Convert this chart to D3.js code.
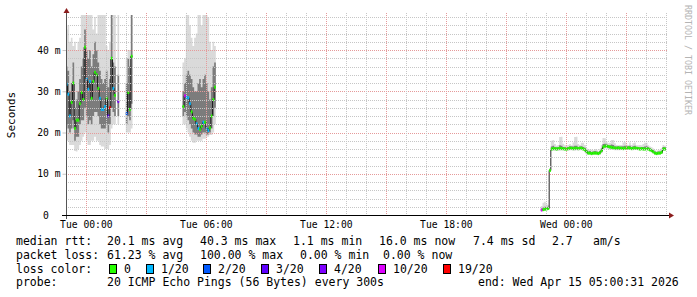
<!DOCTYPE html>
<html>
<head>
<meta charset="utf-8">
<script src="https://cdn.jsdelivr.net/npm/d3@7"></script>
<style>
  body { margin: 0; background: #fff; }
  svg { display: block; }
  text { font-family: "DejaVu Sans Mono", monospace; fill: #000; white-space: pre; }
</style>
</head>
<body>
<div class="svg-container"></div>
<script>
// time window of the graph (30 hours, 300s steps)
const graphStart = "2026-04-13T23:00:31";
const graphEnd = "2026-04-15T05:00:31";
const stepMs = 300000;

// segment A: Mon 23:00 .. Tue 02:20 (values in ms, loss in pings of 20)
const segAStart = "2026-04-13T23:00:00";
const medA  = [31.7,29.3,24,27.3,32,21,23,23,27,29.7, 28,40.7,33,30.5,32.4,28.3,32.4,34.6,34,30.7, 28.3,25.6,25.6,26.3,28.3,24,26,38,30.7,29, null,27.5,null,null,null,null,24.6,29.7,25.6,38.5];
const lossA = [1,1,1,0,0,0,0,0,0,0, 0,0,1,1,1,0,0,0,0,0, 1,1,1,1,0,3,19,0,1,0, null,4,null,null,null,null,2,0,0,0];
const minA  = [18,18,17,17,17,15.5,15.4,16,17,18, 19,20,18,17,17,18,18,19,18,18, 17,16.6,16.6,16,16,16,17,21,22,22, null,22,null,null,null,null,20,20,20,21];
const loA   = [22,21,20,21,23,18,19,19,22,23, 23,26,24,22,23,22,24,25,25,24, 22,21,21,21,22,20,22,26,25,24, null,24,null,null,null,null,22,24,23,27];
const hiA   = [36,35,30,32,37,26,28,30,33,36, 38,45,40,38,40,36,39,42,40,37, 35,33,32,33,35,31,33,49,37,36, null,34,null,null,null,null,32,38,36,49];
const maxA  = [45,46,42,43,41,42,40,42,43,49, 49,49,49,49,49,49,45,48,44,49, 49,49,49,49,41,40,42,49,49,49, null,49,null,null,null,null,38,40,40,49];

// segment B: Tue 04:50 .. Tue 06:30
const segBStart = "2026-04-14T04:50:00";
const medB  = [26.3,28.9,28.5,28.4,27,25,23.5,23.2,22.1,21, 20.7,21.5,22.5,22.5,21,20.5,21.1,24,28,31];
const lossB = [0,10,1,1,1,0,0,0,1,1, 0,0,1,0,1,1,0,0,0,0];
const minB  = [22,22,21,20,19,18,17.5,17.5,18,18, 18,18,18.5,18.5,19,19,19.4,19.4,20,22];
const loB   = [24,25,24,23,22,21,20,19.5,19.5,19, 19,19.5,20,20,19.5,19.5,20,21,24,26];
const hiB   = [30,32,34,35,34,33,31,30,30,32, 33,31,33,34,32,30,28,31,36,37];
const maxB  = [37,38,49,49,46,43,41,43,44,49, 49,46,49,49,49,48,42,40,42,41];

// segment C: Tue 22:45 .. Wed 05:00
const segCStart = "2026-04-14T22:45:00";
const medC  = [1.2,1.3,1.4,1.5,1.6, 10.8,
  16.0,16.1,16.1,16.0,16.1,16.2,16.1,16.1,16.0,16.0,16.1,16.2,16.2,16.1,16.2,16.2,16.1,16.2,16.2,16.0,
  15.8,15.3,15.0,15.0,14.9,15.0,15.0,15.0,14.9,15.1,15.6,
  16.5,16.7,16.7,16.6,16.5,16.4,16.3,16.2,16.2,
  16.3,16.2,16.2,16.1,16.2,16.2,16.3,16.2,16.1,16.2,16.2,16.2,16.1,16.0,16.1,16.0,16.0,16.1,16.0,
  15.8,15.6,15.3,15.0,14.9,15.0,15.0,15.2,16.0,16.0];
const lossC = [10,0,0,0,0, 0,
  0,0,0,0,0,0,0,0,0,0,0,0,0,0,0,0,0,0,0,0,
  0,0,0,0,0,0,0,0,0,0,0,
  0,0,0,0,0,0,0,0,0,
  0,0,0,0,0,0,0,0,0,0,0,0,0,0,0,0,0,0,0,
  0,0,0,0,0,0,0,0,0,0];
const minC  = [1.0,1.0,1.0,1.1,1.2, 10.5,
  15.5,15.6,15.6,15.5,15.6,15.6,15.7,15.6,15.5,15.5,15.6,15.7,15.7,15.6,15.6,15.7,15.6,15.7,15.7,15.5,
  15.2,14.7,14.6,14.6,14.5,14.6,14.6,14.6,14.5,14.6,15.0,
  15.9,16.1,16.1,16.0,15.9,15.8,15.8,15.7,15.7,
  15.7,15.7,15.8,15.7,15.8,15.8,15.8,15.8,15.7,15.7,15.8,15.8,15.7,15.6,15.7,15.6,15.6,15.7,15.6,
  15.4,15.2,14.9,14.6,14.5,14.6,14.6,14.8,15.5,15.6];
const loC   = [1.1,1.1,1.2,1.3,1.4, 10.6,
  15.8,15.9,15.9,15.8,15.9,15.9,15.9,15.9,15.8,15.8,15.9,15.9,16.0,15.9,15.9,16.0,15.9,16.0,16.0,15.8,
  15.5,15.0,14.8,14.8,14.7,14.8,14.8,14.8,14.7,14.9,15.3,
  16.2,16.4,16.4,16.3,16.2,16.1,16.0,16.0,15.9,
  16.0,15.9,16.0,15.9,16.0,16.0,16.1,16.0,15.9,16.0,16.0,16.0,15.9,15.8,15.9,15.8,15.8,15.9,15.8,
  15.6,15.4,15.1,14.8,14.7,14.8,14.8,15.0,15.8,15.8];
const hiC   = [1.6,1.8,2.0,1.9,2.0, 11.0,
  16.6,16.8,16.5,16.4,16.5,16.9,16.8,16.5,16.4,16.4,16.5,16.7,16.6,16.6,16.8,16.8,16.5,16.6,16.7,16.5,
  16.3,15.8,15.4,15.5,15.3,15.4,15.5,15.4,15.3,15.5,16.2,
  17.2,17.3,17.1,17.0,16.9,17.1,17.0,16.7,16.6,
  16.7,16.6,16.6,16.7,16.8,16.6,16.7,16.8,16.5,16.7,16.8,16.5,16.5,16.4,16.5,16.5,16.6,16.7,16.4,
  16.2,16.0,15.7,15.4,15.3,15.4,15.4,15.6,16.5,16.4];
const maxC  = [2.2,3.0,3.2,2.6,2.4, 11.4,
  18.0,18.2,17.2,16.8,17.0,18.9,19.0,17.3,16.9,16.8,17.0,17.2,16.9,17.6,18.9,19.0,17.2,17.0,17.5,17.5,
  17.0,16.2,15.8,15.9,15.8,15.7,16.0,15.8,15.6,16.0,17.0,
  18.7,18.6,17.8,17.4,17.5,18.2,18.2,17.4,17.0,
  16.9,17.0,17.0,17.6,17.7,17.1,17.0,17.6,17.0,17.4,17.6,16.9,16.9,17.0,16.9,17.2,17.5,17.5,16.9,
  16.6,16.4,16.1,15.7,15.6,15.7,15.8,16.2,17.0,16.8];

// axis ticks and legend
const yTicks = [0, 10, 20, 30, 40];
const xLabels = ["2026-04-14T00:00", "2026-04-14T06:00", "2026-04-14T12:00", "2026-04-14T18:00", "2026-04-15T00:00"];
const lossSteps = [0, 1, 2, 3, 4, 10, 19];
const lossLabels = ["0", "1/20", "2/20", "3/20", "4/20", "10/20", "19/20"];
const lossColors = ["#26ff00", "#00b8ff", "#0059ff", "#5e00ff", "#7e00ff", "#dd00ff", "#ff0000"];
const rttLine = [["median rtt:", 16], ["20.1 ms avg", 107], ["40.3 ms max", 200], ["1.1 ms min", 293], ["16.0 ms now", 379], ["7.4 ms sd", 473], ["2.7", 552], ["am/s", 593]];
const lossLine = [["packet loss:", 16], ["61.23 % avg", 107], ["100.00 % max", 200], ["0.00 % min", 300], ["0.00 % now", 383]];
const probeLine = [["probe:", 16], ["20 ICMP Echo Pings (56 Bytes) every 300s", 107], ["end: Wed Apr 15 05:00:31 2026", 478]];

const width = 697, height = 297;
const plotLeft = 66, plotRight = 666, plotTop = 15, plotBottom = 215;

const svg = d3.select(".svg-container").append("svg")
  .attr("width", width)
  .attr("height", height);

svg.append("rect").attr("width", width).attr("height", height).attr("fill", "#fff");

const x = d3.scaleTime()
  .domain([new Date(graphStart), new Date(graphEnd)])
  .range([plotLeft, plotRight]);

const y = d3.scaleLinear()
  .domain([0, 48.5])
  .range([plotBottom, plotTop]);

svg.append("defs").append("clipPath").attr("id", "plot")
  .append("rect").attr("x", plotLeft).attr("y", plotTop).attr("width", plotRight - plotLeft).attr("height", plotBottom - plotTop);

const lossColor = l => lossColors[lossSteps.indexOf(l)];

// build runs of consecutive values
const buildRuns = (start, med, loss, mn, lo, hi, mx) => {
  let t0 = new Date(start).getTime();
  let runs = [], cur = null;
  med.forEach((m, i) => {
    if (m == null) { cur = null; return; }
    if (!cur) { cur = []; runs.push(cur); }
    cur.push({ t: new Date(t0 + i * stepMs), t1: new Date(t0 + (i + 1) * stepMs), med: m, loss: loss[i], min: mn[i], lo: lo[i], hi: hi[i], max: mx[i] });
  });
  // closing point for step curves
  runs.forEach(r => { let last = r[r.length - 1]; r.push(Object.assign({}, last, { t: last.t1 })); });
  return runs;
};

let runs = []
  .concat(buildRuns(segAStart, medA, lossA, minA, loA, hiA, maxA))
  .concat(buildRuns(segBStart, medB, lossB, minB, loB, hiB, maxB))
  .concat(buildRuns(segCStart, medC, lossC, minC, loC, hiC, maxC));

const plot = svg.append("g").attr("clip-path", "url(#plot)");

const outer = d3.area().curve(d3.curveStepAfter).x(d => x(d.t)).y0(d => y(d.min)).y1(d => y(d.max));
const inner = d3.area().curve(d3.curveStepAfter).x(d => x(d.t)).y0(d => y(d.lo)).y1(d => y(d.hi));

plot.selectAll(".outer").data(runs).enter().append("path")
  .attr("class", "outer").attr("d", outer).attr("fill", "#dadada");
plot.selectAll(".inner").data(runs).enter().append("path")
  .attr("class", "inner").attr("d", inner).attr("fill", "#7c7c7c");

// grid
const grid = svg.append("g");
d3.range(0, 49, 2).forEach(v => {
  grid.append("line")
    .attr("x1", plotLeft).attr("x2", plotRight + 2)
    .attr("y1", Math.round(y(v)) + 0.5).attr("y2", Math.round(y(v)) + 0.5)
    .attr("stroke", v % 10 == 0 ? "#e59a9a" : "#c6c6c6")
    .attr("stroke-dasharray", "1,1");
});
d3.timeHour.range(new Date(graphStart), new Date(graphEnd)).forEach(h => {
  grid.append("line")
    .attr("x1", Math.round(x(h)) + 0.5).attr("x2", Math.round(x(h)) + 0.5)
    .attr("y1", plotTop - 2).attr("y2", plotBottom)
    .attr("stroke", h.getHours() % 3 == 0 ? "#e59a9a" : "#c6c6c6")
    .attr("stroke-dasharray", "1,1");
});

// median line and loss markers
const medLine = d3.line().curve(d3.curveStepAfter).x(d => x(d.t)).y(d => y(d.med));
plot.selectAll(".med").data(runs).enter().append("path")
  .attr("class", "med").attr("d", medLine)
  .attr("fill", "none").attr("stroke", "#202020").attr("stroke-width", 1);

plot.selectAll(".mark").data(runs.flatMap(r => r.slice(0, -1))).enter().append("rect")
  .attr("class", "mark")
  .attr("x", d => x(d.t))
  .attr("width", d => x(d.t1) - x(d.t))
  .attr("y", d => y(d.med) - 1.5)
  .attr("height", 3)
  .attr("fill", d => lossColor(d.loss));

// axes
const yAxis = d3.axisLeft(y)
  .tickValues(yTicks)
  .tickSize(4)
  .tickPadding(2)
  .tickFormat(d => d == 0 ? "0\u00a0\u00a0" : d + " m");

const yG = svg.append("g")
  .attr("transform", "translate(" + (plotLeft + 0.5) + ",0)")
  .call(yAxis);
yG.select(".domain").remove();
yG.selectAll(".tick line").attr("stroke", "#c6c6c6");
yG.selectAll("text").style("font-size", "9.7px").style("font-family", "DejaVu Sans Mono");

const xAxis = d3.axisBottom(x)
  .tickValues(xLabels.map(s => new Date(s)))
  .tickSize(0)
  .tickFormat(d3.timeFormat("%a %H:%M"));

const xG = svg.append("g")
  .attr("transform", "translate(0," + plotBottom + ")")
  .call(xAxis);
xG.select(".domain").remove();
xG.selectAll("text").attr("y", 12.5).attr("dy", null)
  .style("font-size", "9.7px").style("font-family", "DejaVu Sans Mono");

svg.append("line").attr("x1", plotLeft + 0.5).attr("x2", plotLeft + 0.5).attr("y1", plotBottom + 4).attr("y2", plotTop - 3)
  .attr("stroke", "#555");
svg.append("line").attr("x1", plotLeft - 4).attr("x2", plotRight + 4).attr("y1", plotBottom + 0.5).attr("y2", plotBottom + 0.5)
  .attr("stroke", "#000");
svg.append("path").attr("d", "M" + (plotLeft - 2.5) + "," + (plotTop - 2) + "L" + (plotLeft + 0.5) + "," + (plotTop - 7) + "L" + (plotLeft + 3.5) + "," + (plotTop - 2) + "Z")
  .attr("fill", "#8b1d1d");
svg.append("path").attr("d", "M" + (plotRight + 3) + "," + (plotBottom - 2.5) + "L" + (plotRight + 8) + "," + (plotBottom + 0.5) + "L" + (plotRight + 3) + "," + (plotBottom + 3.5) + "Z")
  .attr("fill", "#8b1d1d");

// axis title and watermark
svg.append("text")
  .text("Seconds")
  .attr("transform", "translate(15," + (plotTop + plotBottom) / 2 + ") rotate(-90)")
  .attr("text-anchor", "middle")
  .style("font-size", "11px");

svg.append("text")
  .text("RRDTOOL / TOBI OETIKER")
  .attr("transform", "translate(685,5) rotate(90)")
  .style("font-size", "8.3px")
  .style("fill", "#b4b4b4");

// legend
const legend = svg.append("g").style("font-size", "11.5px");
const addRow = (row, yPos) => row.forEach(([txt, xp]) => legend.append("text").text(txt).attr("x", xp).attr("y", yPos));
addRow(rttLine, 245);
addRow(lossLine, 258.5);
addRow([["loss color:", 16]], 272.5);
addRow(probeLine, 286);

const boxX = [109, 146, 203, 261, 319, 378, 443];
lossLabels.forEach((lab, i) => {
  legend.append("rect")
    .attr("x", boxX[i] + 0.5).attr("y", 264.5)
    .attr("width", 7).attr("height", 9)
    .attr("fill", lossColors[i]).attr("stroke", "#000");
  legend.append("text").text(lab).attr("x", boxX[i] + 15).attr("y", 272.5);
});
</script>
</body>
</html>
